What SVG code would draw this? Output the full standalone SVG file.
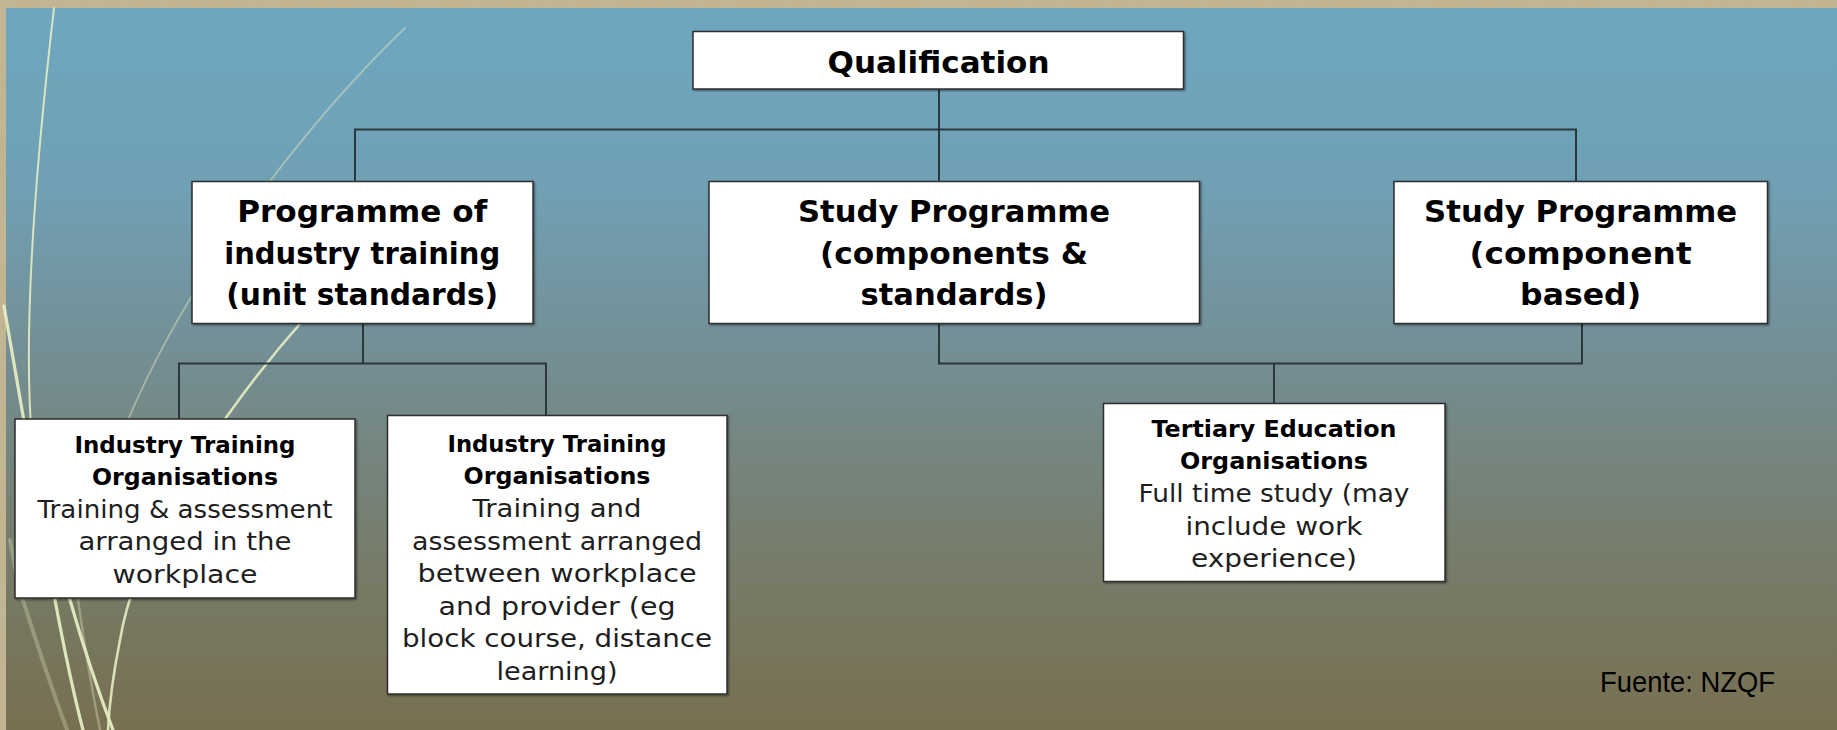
<svg xmlns="http://www.w3.org/2000/svg" width="1837" height="730" viewBox="0 0 1837 730">
<defs>
<linearGradient id="bg" x1="0" y1="0" x2="0" y2="1">
<stop offset="0" stop-color="#6ea7c0"/>
<stop offset="0.25" stop-color="#70a0b4"/>
<stop offset="0.5" stop-color="#748d91"/>
<stop offset="0.75" stop-color="#767d6b"/>
<stop offset="1" stop-color="#786f51"/>
</linearGradient>
<filter id="noise" x="0" y="0" width="100%" height="100%">
<feTurbulence type="fractalNoise" baseFrequency="0.09" numOctaves="3" seed="4"/>
<feColorMatrix type="matrix" values="0 0 0 0 0.55  0 0 0 0 0.5  0 0 0 0 0.38  0 0 0 -1.4 1.0"/>
</filter>
<filter id="shadow" x="-5%" y="-5%" width="110%" height="110%">
<feDropShadow dx="1.2" dy="1.2" stdDeviation="1" flood-color="#000" flood-opacity="0.45"/>
</filter>
<style>
.box{fill:#ffffff;stroke:#2e2e2e;stroke-width:1.5;filter:url(#shadow)}
.conn{fill:none;stroke:#2a383d;stroke-width:2}
.deco{fill:none;stroke:#e4ecc2;stroke-linecap:round}
.h1{font-family:"DejaVu Sans","Liberation Sans",sans-serif;font-weight:bold;font-size:31px;fill:#000;text-anchor:middle}
.h2{font-family:"DejaVu Sans","Liberation Sans",sans-serif;font-weight:bold;font-size:23px;fill:#000;text-anchor:middle}
.t2{font-family:"DejaVu Sans","Liberation Sans",sans-serif;font-weight:normal;font-size:24px;fill:#1e1e1e;text-anchor:middle}
.src{font-family:"Liberation Sans","Carlito",sans-serif;font-size:29px;fill:#000}
</style>
</defs>

<!-- frame and background -->
<rect x="0" y="0" width="1837" height="730" fill="#c2b48f"/>
<rect x="0" y="0" width="1837" height="730" filter="url(#noise)" opacity="0.35"/>
<rect x="6" y="8" width="1831" height="722" fill="url(#bg)"/>

<!-- decorative swirl lines -->
<g id="decor">
<path class="deco" d="M54,8 Q20,300 32,440" stroke-width="2" opacity="0.9"/>
<path class="deco" d="M405,28 C330,100 200,250 128,420" stroke-width="1.8" opacity="0.45"/>
<path class="deco" d="M4,306 L55,600 Q70,680 83,730" stroke-width="3.2" opacity="0.95"/>
<path class="deco" d="M30,450 Q58,560 70,600 Q90,670 113,730" stroke-width="3.2" opacity="0.95"/>
<path class="deco" d="M60,470 Q75,560 78,600 Q88,670 100,730" stroke-width="2.5" opacity="0.35"/>
<path class="deco" d="M10,540 Q20,597 23,600 Q45,670 67,730" stroke-width="4" opacity="0.3"/>
<path class="deco" d="M305,318 C250,380 140,520 120,640 Q110,690 108,730" stroke-width="2.6" opacity="0.9"/>
</g>

<!-- connectors -->
<g id="connectors">
<path class="conn" d="M939,89.5 V181.5"/>
<path class="conn" d="M355,181.5 V129.5 H1576 V181.5"/>
<path class="conn" d="M363,323.5 V363.5"/>
<path class="conn" d="M179,419 V363.5 H546 V415.5"/>
<path class="conn" d="M939,323.5 V363.5 H1582 V323.5"/>
<path class="conn" d="M1274,363.5 V403.5"/>
</g>

<!-- nodes -->
<g id="qualification">
<rect class="box" x="693" y="31.5" width="490.5" height="57.5"/>
<text class="h1" x="938.5" y="72.5" textLength="222" lengthAdjust="spacingAndGlyphs">Qualification</text>
</g>

<g id="programme-industry">
<rect class="box" x="192" y="181.5" width="341" height="142"/>
<text class="h1" x="362.2" y="222" textLength="250" lengthAdjust="spacingAndGlyphs">Programme of</text>
<text class="h1" x="362.2" y="263.5" textLength="276" lengthAdjust="spacingAndGlyphs">industry training</text>
<text class="h1" x="362.2" y="305" textLength="272" lengthAdjust="spacingAndGlyphs">(unit standards)</text>
</g>

<g id="study-components">
<rect class="box" x="709" y="181.5" width="490.5" height="142"/>
<text class="h1" x="954" y="222" textLength="312" lengthAdjust="spacingAndGlyphs">Study Programme</text>
<text class="h1" x="954" y="263.5" textLength="268" lengthAdjust="spacingAndGlyphs">(components &amp;</text>
<text class="h1" x="954" y="305" textLength="187" lengthAdjust="spacingAndGlyphs">standards)</text>
</g>

<g id="study-component-based">
<rect class="box" x="1394" y="181.5" width="373.5" height="142"/>
<text class="h1" x="1580.6" y="222" textLength="313" lengthAdjust="spacingAndGlyphs">Study Programme</text>
<text class="h1" x="1580.6" y="263.5" textLength="222" lengthAdjust="spacingAndGlyphs">(component</text>
<text class="h1" x="1580.6" y="305" textLength="121" lengthAdjust="spacingAndGlyphs">based)</text>
</g>

<g id="ito-workplace">
<rect class="box" x="15" y="419" width="340" height="179"/>
<text class="h2" x="185" y="452.5" textLength="221" lengthAdjust="spacingAndGlyphs">Industry Training</text>
<text class="h2" x="185" y="485" textLength="186" lengthAdjust="spacingAndGlyphs">Organisations</text>
<text class="t2" x="185" y="517.5" textLength="295" lengthAdjust="spacingAndGlyphs">Training &amp; assessment</text>
<text class="t2" x="185" y="550" textLength="213" lengthAdjust="spacingAndGlyphs">arranged in the</text>
<text class="t2" x="185" y="582.5" textLength="145" lengthAdjust="spacingAndGlyphs">workplace</text>
</g>

<g id="ito-provider">
<rect class="box" x="387.5" y="415.5" width="339.5" height="278.5"/>
<text class="h2" x="557" y="451.7" textLength="219" lengthAdjust="spacingAndGlyphs">Industry Training</text>
<text class="h2" x="557" y="484.3" textLength="187" lengthAdjust="spacingAndGlyphs">Organisations</text>
<text class="t2" x="557" y="516.9" textLength="169" lengthAdjust="spacingAndGlyphs">Training and</text>
<text class="t2" x="557" y="549.5" textLength="290" lengthAdjust="spacingAndGlyphs">assessment arranged</text>
<text class="t2" x="557" y="582.1" textLength="279" lengthAdjust="spacingAndGlyphs">between workplace</text>
<text class="t2" x="557" y="614.7" textLength="237" lengthAdjust="spacingAndGlyphs">and provider (eg</text>
<text class="t2" x="557" y="647.3" textLength="310" lengthAdjust="spacingAndGlyphs">block course, distance</text>
<text class="t2" x="557" y="679.9" textLength="121" lengthAdjust="spacingAndGlyphs">learning)</text>
</g>

<g id="teo">
<rect class="box" x="1103.5" y="403.5" width="341.5" height="178"/>
<text class="h2" x="1274" y="436.7" textLength="245" lengthAdjust="spacingAndGlyphs">Tertiary Education</text>
<text class="h2" x="1274" y="469.3" textLength="188" lengthAdjust="spacingAndGlyphs">Organisations</text>
<text class="t2" x="1274" y="501.9" textLength="271" lengthAdjust="spacingAndGlyphs">Full time study (may</text>
<text class="t2" x="1274" y="534.5" textLength="177" lengthAdjust="spacingAndGlyphs">include work</text>
<text class="t2" x="1274" y="567.1" textLength="166" lengthAdjust="spacingAndGlyphs">experience)</text>
</g>

<text class="src" x="1600" y="691.7" textLength="175" lengthAdjust="spacingAndGlyphs">Fuente: NZQF</text>
</svg>
